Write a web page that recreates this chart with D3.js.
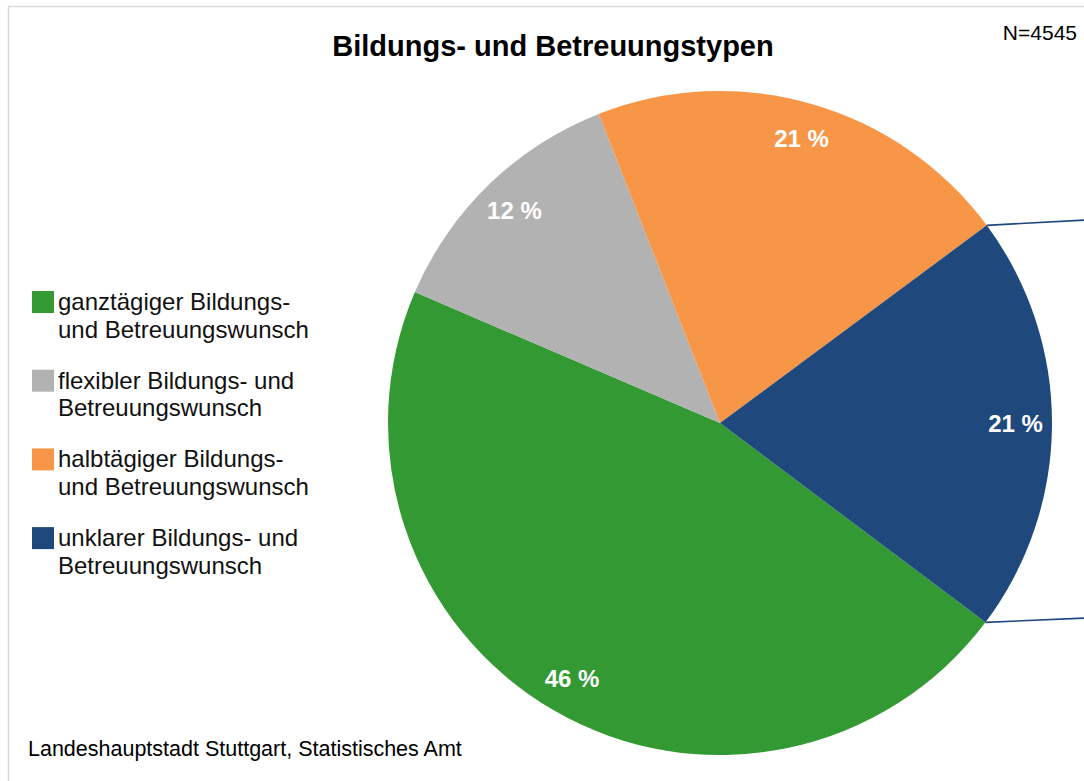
<!DOCTYPE html>
<html>
<head>
<meta charset="utf-8">
<title>Bildungs- und Betreuungstypen</title>
<script src="https://cdnjs.cloudflare.com/ajax/libs/d3/7.8.5/d3.min.js"></script>
<style>
  body { margin: 0; background: #fff; }
  svg { display: block; font-family: "Liberation Sans", Arial, sans-serif; }
</style>
</head>
<body>
<svg width="1084" height="781"></svg>
<script>
// data
const categories = [
  ['ganztägiger Bildungs-', 'und Betreuungswunsch'],
  ['flexibler Bildungs- und', 'Betreuungswunsch'],
  ['halbtägiger Bildungs-', 'und Betreuungswunsch'],
  ['unklarer Bildungs- und', 'Betreuungswunsch']
];
const shares = [46.2, 12.6, 20.8, 20.4];
const labels = ['46 %', '12 %', '21 %', '21 %'];
const colors = ['#339933', '#b2b2b2', '#f79646', '#1f497d'];

const svg = d3.select('svg');

// frame
svg.append('rect')
  .attr('x', 8.5).attr('y', 6.5)
  .attr('width', 1100).attr('height', 800)
  .attr('fill', 'none')
  .attr('stroke', '#d9d9d9')
  .attr('stroke-width', 1.5);

const cx = 720, cy = 423, r = 332;
const start = 126.9 * Math.PI / 180;

const pie = d3.pie().sort(null).value(d => d)
  .startAngle(start).endAngle(start + 2 * Math.PI);
const arcs = pie(shares);
const arc = d3.arc().innerRadius(0).outerRadius(r);
const labelArc = d3.arc().innerRadius(r * 0.89).outerRadius(r * 0.89);

const g = svg.append('g').attr('transform', `translate(${cx},${cy})`);

g.selectAll('path')
  .data(arcs)
  .enter()
  .append('path')
  .attr('d', arc)
  .attr('fill', (d, i) => colors[i]);

g.selectAll('text')
  .data(arcs)
  .enter()
  .append('text')
  .attr('transform', d => `translate(${labelArc.centroid(d)})`)
  .attr('text-anchor', 'middle')
  .attr('dy', '0.35em')
  .attr('fill', '#fff')
  .attr('font-weight', 'bold')
  .attr('font-size', 24)
  .text((d, i) => labels[i]);

// connector lines from the blue slice edges (pie-of-pie style)
const blue = arcs[3];
[blue.startAngle, blue.endAngle].forEach((a, k) => {
  const x0 = cx + r * Math.sin(a), y0 = cy - r * Math.cos(a);
  svg.append('line')
    .attr('x1', x0).attr('y1', y0)
    .attr('x2', 1090).attr('y2', y0 + (k === 0 ? -5.5 : -4.5))
    .attr('stroke', '#1f497d')
    .attr('stroke-width', 1.6);
});

// title
svg.append('text')
  .attr('x', 553).attr('y', 56)
  .attr('text-anchor', 'middle')
  .attr('font-size', 29)
  .attr('font-weight', 'bold')
  .text('Bildungs- und Betreuungstypen');

svg.append('text')
  .attr('x', 1077).attr('y', 40)
  .attr('text-anchor', 'end')
  .attr('font-size', 21)
  .text('N=4545');

// legend
const legend = svg.append('g');
const item = legend.selectAll('g')
  .data(categories)
  .enter()
  .append('g')
  .attr('transform', (d, i) => `translate(32,${291 + i * 78.7})`);

item.append('rect')
  .attr('width', 22).attr('height', 22)
  .attr('fill', (d, i) => colors[i]);

item.append('text')
  .attr('x', 26)
  .attr('y', 19)
  .attr('font-size', 24)
  .attr('fill', '#111')
  .selectAll('tspan')
  .data(d => d)
  .enter()
  .append('tspan')
  .attr('x', 26)
  .attr('dy', (d, i) => i === 0 ? 0 : 27.5)
  .text(d => d);

// source
svg.append('text')
  .attr('x', 28).attr('y', 756)
  .attr('font-size', 21.5)
  .text('Landeshauptstadt Stuttgart, Statistisches Amt');
</script>
</body>
</html>
